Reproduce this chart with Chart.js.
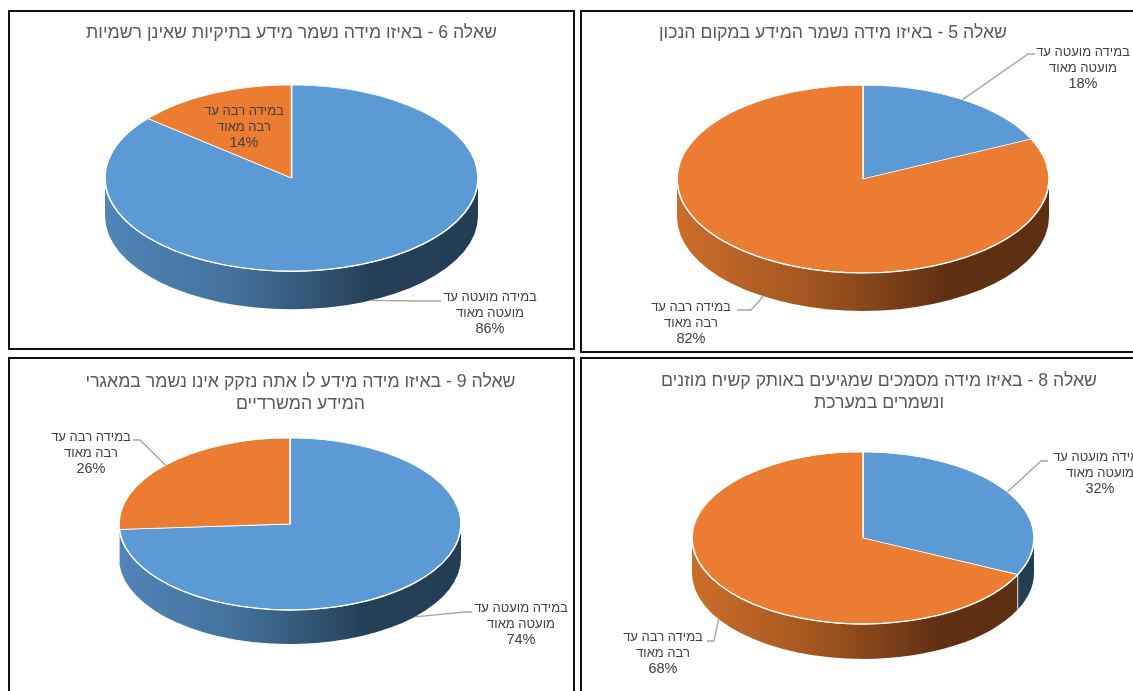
<!DOCTYPE html>
<html lang="he">
<head>
<meta charset="utf-8">
<title>שאלון מידע</title>
<script src="https://cdn.jsdelivr.net/npm/chart.js@4/dist/chart.umd.min.js"></script>
<style>
  html, body { margin: 0; padding: 0; width: 1133px; height: 691px; background: #fff; overflow: hidden; }
  .panel { position: absolute; box-sizing: border-box; border: 2px solid #111; overflow: hidden; background: #fff; }
  .panel canvas { position: absolute; left: 0; top: 0; }
</style>
</head>
<body>
<div class="panel" style="left:8px;top:10px;width:567px;height:340px"><canvas id="q6" dir="rtl"></canvas></div>
<div class="panel" style="left:580px;top:10px;width:600px;height:343px"><canvas id="q5" dir="rtl"></canvas></div>
<div class="panel" style="left:8px;top:357px;width:567px;height:400px"><canvas id="q9" dir="rtl"></canvas></div>
<div class="panel" style="left:580px;top:357px;width:600px;height:400px"><canvas id="q8" dir="rtl"></canvas></div>

<script>
// Answer categories and their wrapped label lines
const categories = ['במידה מועטה עד מועטה מאוד', 'במידה רבה עד רבה מאוד'];
const categoryLines = [['במידה מועטה עד', 'מועטה מאוד'], ['במידה רבה עד', 'רבה מאוד']];

// Percent of answers per question
const q6Values = [86, 14];
const q5Values = [18, 82];
const q9Values = [74, 26];
const q8Values = [32, 68];

const q6Title = 'שאלה 6 - באיזו מידה נשמר מידע בתיקיות שאינן רשמיות';
const q5Title = 'שאלה 5 - באיזו מידה נשמר המידע במקום הנכון';
const q9Title = ['שאלה 9 - באיזו מידה מידע לו אתה נזקק אינו נשמר במאגרי', 'המידע המשרדיים'];
const q8Title = ['שאלה 8 - באיזו מידה מסמכים שמגיעים באותק קשיח מוזנים', 'ונשמרים במערכת'];

const sliceColors = ['#5B9AD5', '#EB7C31'];
// side wall shading, left to right
const wallStops = [
  [[0, '#5085B8'], [0.35, '#42719B'], [0.72, '#243F57'], [1, '#233D54']],
  [[0, '#CC6C2A'], [0.35, '#A3571F'], [0.72, '#613013'], [1, '#5E2F11']]
];

const fontFamily = '"Liberation Sans", Arial, sans-serif';
const titleSize = 17.7;
const titleLineHeight = 22;
const labelSize = 13;
const percentSize = 14.5;
const labelLineHeight = 16;

// Squashes the round pie into a tilted disc, adds the side wall, draws callouts
const tiltedPie = {
  id: 'tiltedPie',
  afterLayout(chart, args, opts) {
    // the chart title does not sit over the pie centre
    const title = chart.titleBlock;
    title.left += opts.titleShift;
    title.right += opts.titleShift;
  },
  beforeDatasetsDraw(chart, args, opts) {
    const ctx = chart.ctx;
    const arcs = chart.getDatasetMeta(0).data;
    arcs.forEach((arc, i) => {
      const r = arc.outerRadius;
      const ry = r * opts.squash;
      const a = Math.max(arc.startAngle, 0);
      const b = Math.min(arc.endAngle, Math.PI);
      if (a >= b) return;
      const grad = ctx.createLinearGradient(arc.x - r, 0, arc.x + r, 0);
      wallStops[i].forEach(s => grad.addColorStop(s[0], s[1]));
      ctx.save();
      ctx.beginPath();
      ctx.ellipse(arc.x, arc.y, r, ry, 0, a, b);
      ctx.ellipse(arc.x, arc.y + opts.depth, r, ry, 0, b, a, true);
      ctx.closePath();
      ctx.fillStyle = grad;
      ctx.fill();
      // seam where two slices meet on the wall
      if (a > 0) {
        const sx = arc.x + r * Math.cos(a);
        const sy = arc.y + ry * Math.sin(a);
        ctx.strokeStyle = '#d5dde4';
        ctx.lineWidth = 1;
        ctx.beginPath();
        ctx.moveTo(sx, sy);
        ctx.lineTo(sx, sy + opts.depth);
        ctx.stroke();
      }
      ctx.restore();
    });
    const c = arcs[0];
    ctx.save();
    ctx.translate(0, c.y);
    ctx.scale(1, opts.squash);
    ctx.translate(0, -c.y);
  },
  afterDatasetsDraw(chart, args, opts) {
    const ctx = chart.ctx;
    ctx.restore();
    const arcs = chart.getDatasetMeta(0).data;
    const values = chart.data.datasets[0].data;
    // light rim along the front of the disc
    const first = arcs[0];
    ctx.strokeStyle = '#ffffff';
    ctx.lineWidth = 1.3;
    ctx.beginPath();
    ctx.ellipse(first.x, first.y, first.outerRadius, first.outerRadius * opts.squash, 0, 0, Math.PI);
    ctx.stroke();
    arcs.forEach((arc, i) => {
      const callout = opts.callouts[i];
      // leader line starts at the middle of the slice, on the disc rim or the wall foot
      if (callout.elbow) {
        const mid = (arc.startAngle + arc.endAngle) / 2;
        const sin = Math.sin(mid);
        const ax = arc.x + arc.outerRadius * Math.cos(mid);
        const ay = arc.y + arc.outerRadius * opts.squash * sin + (sin > 0 ? opts.depth : 0);
        ctx.strokeStyle = '#a6a6a6';
        ctx.lineWidth = 1.4;
        ctx.beginPath();
        ctx.moveTo(ax, ay);
        ctx.lineTo(callout.elbow[0], callout.elbow[1]);
        ctx.lineTo(callout.end[0], callout.end[1]);
        ctx.stroke();
      }
      ctx.save();
      ctx.direction = 'rtl';
      ctx.fillStyle = '#404040';
      ctx.textAlign = 'center';
      ctx.textBaseline = 'middle';
      const lines = categoryLines[i].concat(values[i] + '%');
      lines.forEach((line, n) => {
        ctx.font = (n === 2 ? percentSize : labelSize) + 'px ' + fontFamily;
        ctx.fillText(line, callout.x, callout.y + n * labelLineHeight);
      });
      ctx.restore();
    });
  }
};

// box is the canvas in page coordinates, the rest of the layout too
function makePie(id, box, values, title, titleCenter, titleY, center, radius, squash, depth, callouts) {
  const [left, top, width, height] = box;
  const lines = Array.isArray(title) ? title.length : 1;
  const cx = center[0] - left;
  const cy = center[1] - top;
  const titleTop = titleY - top - titleLineHeight / 2;
  const titleHeight = titleTop + lines * titleLineHeight;
  const canvas = document.getElementById(id);
  canvas.width = width;
  canvas.height = height;
  return new Chart(canvas.getContext('2d'), {
    type: 'pie',
    data: {
      labels: categories,
      datasets: [{
        data: values,
        backgroundColor: sliceColors,
        borderColor: '#ffffff',
        borderWidth: 1.5,
        radius: radius,
        clip: false
      }]
    },
    options: {
      responsive: false,
      animation: false,
      events: [],
      layout: {
        padding: {
          left: Math.max(0, 2 * cx - width),
          right: Math.max(0, width - 2 * cx),
          top: 0,
          bottom: height + titleHeight - 2 * cy
        }
      },
      plugins: {
        legend: { display: false },
        tooltip: { enabled: false },
        title: {
          display: true,
          text: title,
          color: '#595959',
          font: { family: fontFamily, size: titleSize, weight: 'normal', lineHeight: titleLineHeight / titleSize },
          padding: { top: titleTop, bottom: 0 }
        },
        tiltedPie: {
          squash: squash,
          depth: depth,
          titleShift: titleCenter - center[0],
          callouts: callouts.map(c => ({
            x: c.x - left,
            y: c.y - top,
            elbow: c.elbow ? [c.elbow[0] - left, c.elbow[1] - top] : null,
            end: c.end ? [c.end[0] - left, c.end[1] - top] : null
          }))
        }
      }
    },
    plugins: [tiltedPie]
  });
}

makePie('q6', [10, 12, 563, 336], q6Values, q6Title, 291.5, 33, [291.5, 178], 186.5, 0.5, 38, [
  { x: 490, y: 297, elbow: [420, 301], end: [441, 301] },
  { x: 244, y: 111 }
]);
makePie('q5', [582, 12, 596, 339], q5Values, q5Title, 833, 33, [863, 179], 186, 0.505, 38, [
  { x: 1083, y: 52, elbow: [1028, 54], end: [1035, 54] },
  { x: 691, y: 307, elbow: [751, 310], end: [737, 310] }
]);
makePie('q9', [10, 359, 563, 396], q9Values, q9Title, 300.5, 382, [290, 524], 171, 0.503, 34, [
  { x: 521, y: 608, elbow: [465, 612], end: [472, 612] },
  { x: 91, y: 437, elbow: [140, 440], end: [133, 440] }
]);
makePie('q8', [582, 359, 596, 396], q8Values, q8Title, 879, 381, [863, 538], 171, 0.503, 35, [
  { x: 1100, y: 457, elbow: [1041, 461], end: [1048, 461] },
  { x: 663, y: 637, elbow: [714, 641], end: [707, 641] }
]);
</script>
</body>
</html>
